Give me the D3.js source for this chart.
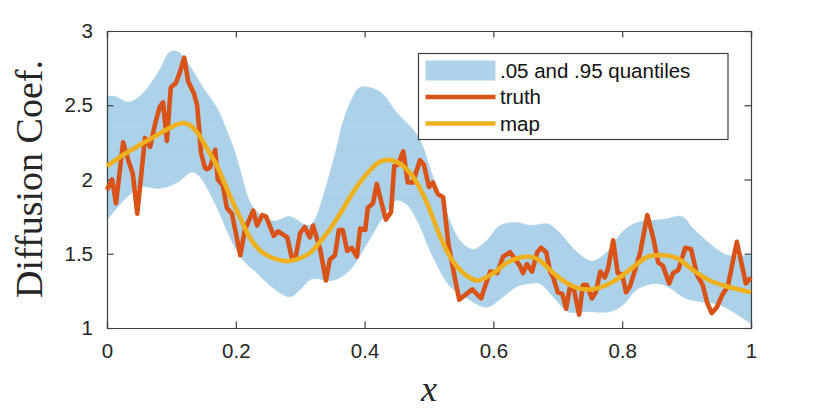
<!DOCTYPE html>
<html>
<head>
<meta charset="utf-8">
<script src="https://cdn.jsdelivr.net/npm/d3@7"></script>
<style>
	html, body { margin: 0; padding: 0; background: #fff; }
	svg { display: block; }
	text { font-family: "Liberation Sans", sans-serif; fill: #262626; }
</style>
</head>
<body>
<div id="graphZone"></div>
<script>
/************************************ Data *******************************/
var truthX = [0,.008,.014,.025,.033,.040,.047,.059,.067,.075,.082,.087,.093,.099,.107,.113,.120,.126,.135,.140,.146,.152,.155,.160,.168,.172,.180,.186,.194,.207,.214,.227,.233,.241,.247,.259,.266,.280,.287,.293,.300,.307,.315,.320,.331,.340,.346,.354,.360,.366,.373,.380,.388,.393,.401,.405,.413,.419,.427,.433,.441,.446,.452,.460,.467,.475,.486,.492,.500,.506,.514,.522,.530,.540,.547,.567,.581,.587,.595,.606,.615,.626,.641,.646,.652,.660,.668,.674,.682,.688,.693,.700,.707,.713,.719,.725,.733,.739,.745,.753,.759,.766,.773,.778,.786,.793,.800,.806,.812,.820,.828,.839,.848,.856,.863,.873,.879,.887,.898,.907,.916,.925,.932,.939,.947,.955,.964,.978,.992,1];
var truthY = [1.93,2.00,1.84,2.25,2.13,2.04,1.77,2.28,2.22,2.38,2.49,2.52,2.26,2.62,2.65,2.72,2.82,2.66,2.58,2.50,2.18,2.08,2.07,2.08,2.20,2.00,1.96,1.81,1.77,1.49,1.66,1.79,1.69,1.76,1.75,1.62,1.65,1.61,1.47,1.48,1.64,1.68,1.61,1.69,1.53,1.32,1.46,1.49,1.66,1.66,1.52,1.54,1.48,1.67,1.66,1.81,1.84,1.97,1.83,1.73,1.78,2.09,2.10,2.19,1.98,1.98,2.13,2.10,1.95,1.98,1.90,1.88,1.57,1.34,1.19,1.26,1.20,1.28,1.38,1.37,1.48,1.51,1.42,1.37,1.43,1.38,1.51,1.54,1.51,1.38,1.34,1.24,1.23,1.13,1.28,1.26,1.09,1.29,1.29,1.20,1.24,1.38,1.34,1.40,1.59,1.37,1.36,1.24,1.28,1.39,1.51,1.76,1.61,1.44,1.42,1.30,1.37,1.39,1.54,1.53,1.36,1.29,1.17,1.10,1.14,1.22,1.28,1.58,1.30,1.34];

var mapX = [0,.025,.05,.078,.103,.117,.129,.141,.155,.171,.18,.194,.207,.223,.238,.258,.28,.297,.315,.323,.342,.362,.383,.404,.424,.442,.46,.478,.497,.517,.537,.559,.576,.6,.621,.637,.657,.672,.688,.708,.73,.753,.776,.796,.817,.84,.863,.885,.91,.936,.963,1];
var mapY = [2.09,2.165,2.23,2.30,2.36,2.38,2.365,2.31,2.21,2.09,2.00,1.86,1.74,1.60,1.52,1.47,1.45,1.465,1.505,1.54,1.64,1.77,1.92,2.04,2.12,2.13,2.09,2.00,1.84,1.62,1.45,1.35,1.32,1.37,1.44,1.47,1.48,1.455,1.39,1.32,1.27,1.26,1.29,1.34,1.41,1.48,1.49,1.47,1.39,1.32,1.28,1.24];

var upperX = [0,.012,.033,.051,.067,.082,.098,.11,.126,.149,.171,.186,.199,.207,.227,.258,.284,.311,.32,.342,.357,.366,.38,.393,.424,.45,.483,.506,.528,.548,.568,.59,.61,.637,.657,.685,.703,.73,.753,.776,.801,.823,.863,.893,.91,.947,.963,1];
var upperY = [2.56,2.56,2.52,2.56,2.64,2.74,2.86,2.86,2.78,2.62,2.48,2.33,2.18,2.06,1.81,1.72,1.75,1.69,1.71,1.98,2.22,2.38,2.54,2.62,2.59,2.45,2.29,2.02,1.77,1.59,1.53,1.59,1.69,1.71,1.69,1.70,1.64,1.51,1.45,1.51,1.65,1.71,1.73,1.75,1.67,1.53,1.49,1.49];

var lowerX = [0,.016,.031,.051,.082,.109,.132,.144,.171,.191,.211,.233,.258,.284,.3,.318,.351,.377,.404,.429,.45,.466,.481,.506,.533,.559,.59,.615,.637,.657,.672,.693,.716,.745,.781,.801,.823,.854,.874,.898,.924,.952,1];
var lowerY = [1.73,1.81,1.88,1.95,1.94,1.98,2.05,2.02,1.81,1.61,1.46,1.37,1.27,1.21,1.26,1.33,1.32,1.39,1.57,1.75,1.86,1.83,1.73,1.48,1.28,1.20,1.14,1.21,1.28,1.30,1.30,1.21,1.11,1.11,1.11,1.155,1.26,1.30,1.27,1.20,1.175,1.155,1.03];

var xTicks = [0, 0.2, 0.4, 0.6, 0.8, 1];
var yTicks = [1, 1.5, 2, 2.5, 3];
var legendLabels = [".05 and .95 quantiles", "truth", "map"];

/************************************ Scales *******************************/
var width = 830, height = 415;
var left = 107, right = 751, top_ = 31, bottom = 328;
var bandColor = "#aed3ea", truthColor = "#d95319", mapColor = "#edb120", axisColor = "#404040";

var x = d3.scaleLinear().domain([0, 1]).range([left, right]);
var y = d3.scaleLinear().domain([1, 3]).range([bottom, top_]);

var svg = d3.select("#graphZone").append("svg")
	.attr("width", width)
	.attr("height", height);

function toPoints(xs, ys) {
	return xs.map(function(d, i) { return [d, ys[i]]; });
}
var lineGen = d3.line().x(function(d) { return x(d[0]); }).y(function(d) { return y(d[1]); });
var smoothGen = d3.line().x(function(d) { return x(d[0]); }).y(function(d) { return y(d[1]); })
	.curve(d3.curveCatmullRom.alpha(0.5));

/************************************ Band *******************************/
var upperPath = smoothGen(toPoints(upperX, upperY));
var lowerPath = smoothGen(toPoints(lowerX, lowerY).reverse());
var bandPath = upperPath + "L" + lowerPath.slice(1) + "Z";
svg.append("path")
	.attr("d", bandPath)
	.style("fill", bandColor)
	.style("stroke", bandColor)
	.style("stroke-width", 0.6);

// faint seams of the patch
svg.append("clipPath").attr("id", "bandClip").append("path").attr("d", bandPath);
svg.append("g").attr("clip-path", "url(#bandClip)")
	.selectAll("line").data(d3.range(1, 3, 0.017)).enter().append("line")
	.attr("x1", left).attr("x2", right)
	.attr("y1", function(d) { return y(d); })
	.attr("y2", function(d) { return y(d); })
	.style("stroke", "#8fbfdf")
	.style("stroke-width", 0.5)
	.style("stroke-opacity", 0.35);

/************************************ Axes *******************************/
var xBottom = svg.append("g").attr("transform", "translate(0," + bottom + ")")
	.call(d3.axisBottom(x).tickValues(xTicks).tickSize(-6.5).tickPadding(15).tickFormat(d3.format("~g")));
var xTop = svg.append("g").attr("transform", "translate(0," + top_ + ")")
	.call(d3.axisTop(x).tickValues(xTicks).tickSize(-6.5).tickFormat(""));
var yLeft = svg.append("g").attr("transform", "translate(" + left + ",0)")
	.call(d3.axisLeft(y).tickValues(yTicks).tickSize(-6.5).tickPadding(14).tickFormat(d3.format("~g")));
var yRight = svg.append("g").attr("transform", "translate(" + right + ",0)")
	.call(d3.axisRight(y).tickValues(yTicks).tickSize(-6.5).tickFormat(""));

[xBottom, xTop, yLeft, yRight].forEach(function(a) {
	a.selectAll("path,line").style("stroke", axisColor).style("stroke-width", 1.2);
	a.selectAll("path").style("fill", "none");
	a.selectAll("text").style("font-family", '"Liberation Sans", sans-serif').style("font-size", "20.5px").style("fill", "#262626");
});

/************************************ Lines *******************************/
svg.append("path")
	.attr("d", lineGen(toPoints(truthX, truthY)))
	.style("fill", "none")
	.style("stroke", truthColor)
	.style("stroke-width", 4.6)
	.style("stroke-linejoin", "round");

svg.append("path")
	.attr("d", smoothGen(toPoints(mapX, mapY)))
	.style("fill", "none")
	.style("stroke", mapColor)
	.style("stroke-width", 4.6);

/************************************ Titles *******************************/
svg.append("text")
	.attr("transform", "translate(42,179) rotate(-90)")
	.attr("text-anchor", "middle")
	.style("font-family", '"Liberation Serif", serif')
	.style("font-size", "38px")
	.style("fill", "#262626")
	.text("Diffusion Coef.");

svg.append("text")
	.attr("x", 429)
	.attr("y", 401)
	.attr("text-anchor", "middle")
	.style("font-family", '"Liberation Serif", serif')
	.style("font-style", "italic")
	.style("font-size", "36px")
	.style("fill", "#262626")
	.text("x");

/************************************ Legend *******************************/
var legend = svg.append("g").attr("transform", "translate(418.5,53.5)");
legend.append("rect")
	.attr("width", 309.5)
	.attr("height", 86)
	.style("fill", "#fff")
	.style("stroke", "#404040")
	.style("stroke-width", 1.2);
legend.append("rect")
	.attr("x", 7)
	.attr("y", 7)
	.attr("width", 70)
	.attr("height", 20)
	.style("fill", bandColor);
[[truthColor, 43.5], [mapColor, 70]].forEach(function(d) {
	legend.append("line")
		.attr("x1", 7).attr("x2", 77)
		.attr("y1", d[1]).attr("y2", d[1])
		.style("stroke", d[0])
		.style("stroke-width", 4.6);
});
legend.selectAll("text").data(legendLabels).enter().append("text")
	.attr("x", 81.5)
	.attr("y", function(d, i) { return 24 + i * 26.5; })
	.style("font-size", "20.5px")
	.style("fill", "#111")
	.text(function(d) { return d; });
</script>
</body>
</html>
